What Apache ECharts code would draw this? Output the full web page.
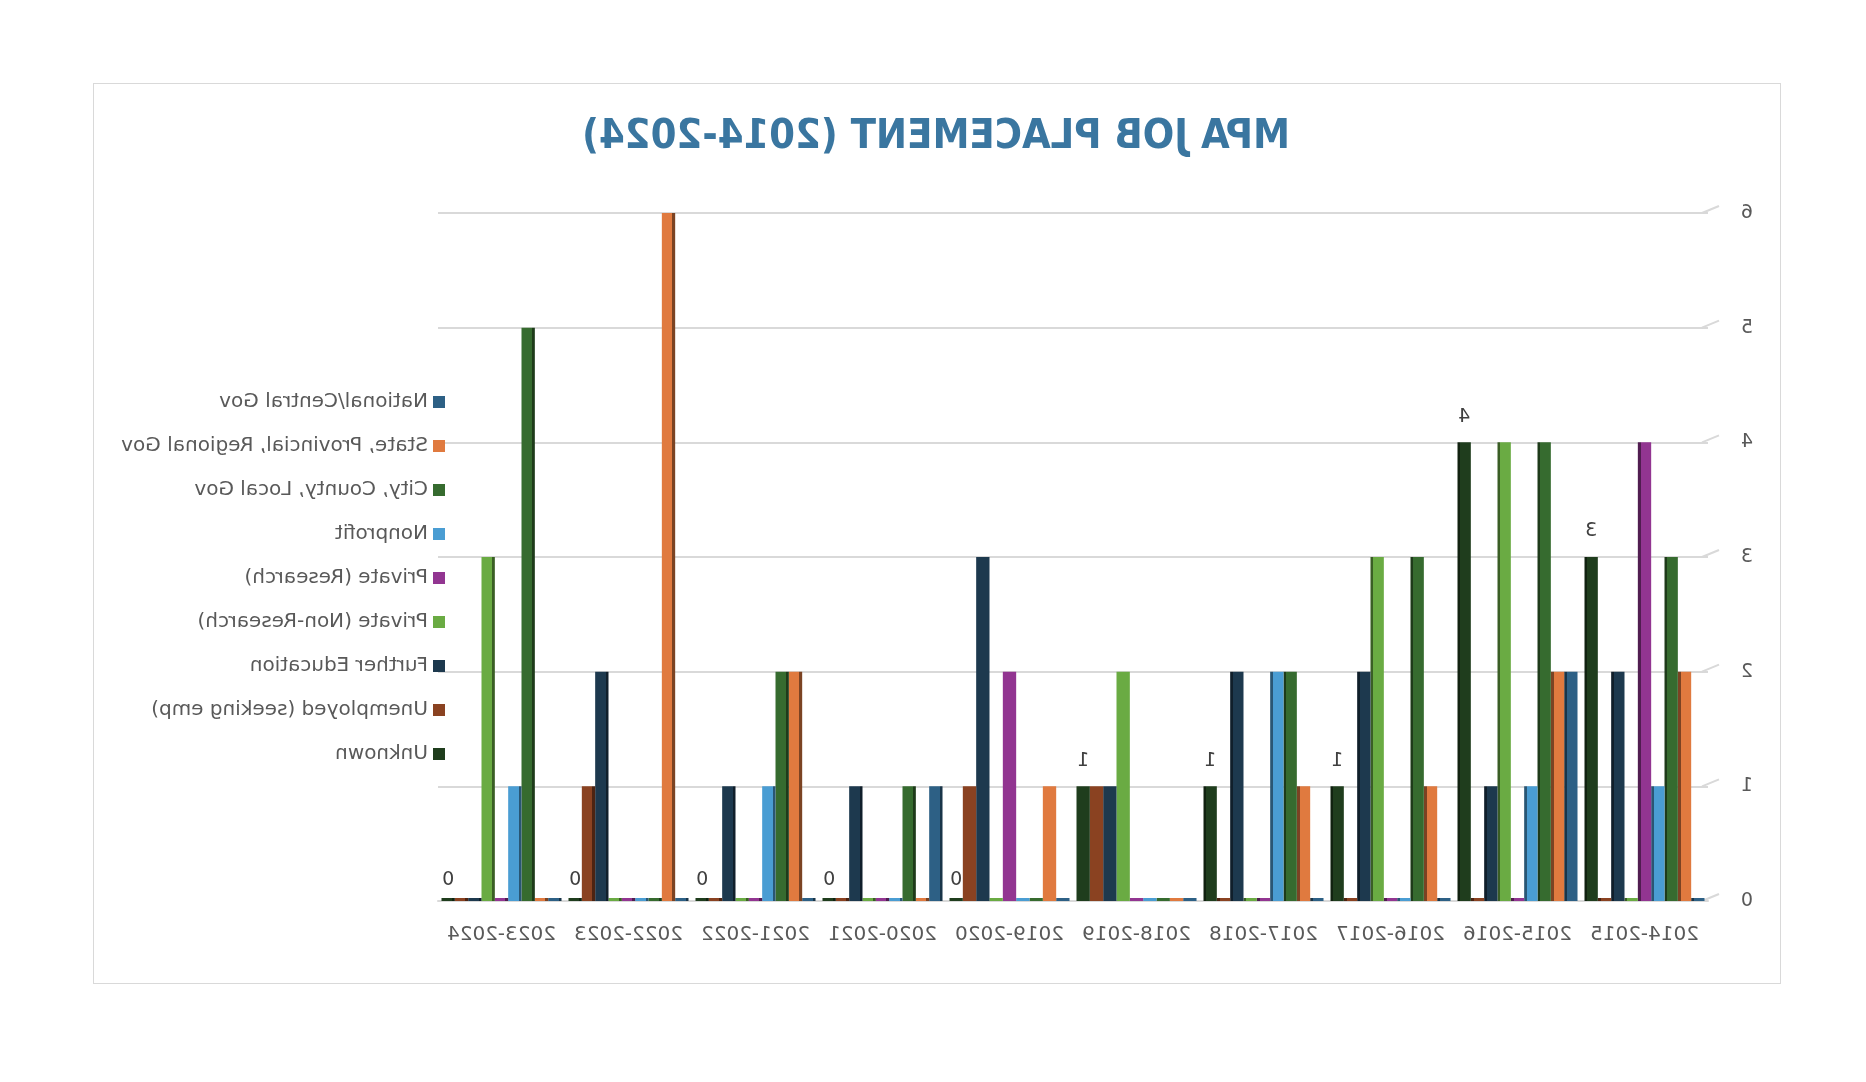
<!DOCTYPE html>
<html>
<head>
<meta charset="utf-8">
<script src="https://cdn.jsdelivr.net/npm/echarts@6/dist/echarts.min.js"></script>
<style>
html,body{margin:0;padding:0;background:#fff;}
#flip{position:absolute;left:0;top:0;width:1866px;height:1082px;transform:scaleX(-1);}
#frame{position:absolute;left:85px;top:83px;width:1688px;height:901px;border:1px solid #d9d9d9;box-sizing:border-box;}
#chart{position:absolute;left:0;top:0;width:1866px;height:1082px;}
</style>
</head>
<body>
<div id="flip"><div id="frame"></div><div id="chart"></div></div>
<script>
const categories = ['2014-2015','2015-2016','2016-2017','2017-2018','2018-2019','2019-2020','2020-2021','2021-2022','2022-2023','2023-2024'];
const seriesNames = ['National/Central Gov','State, Provincial, Regional Gov','City, County, Local Gov','Nonprofit','Private (Research)','Private (Non-Research)','Further Education','Unemployed (seeking emp)','Unknown'];
const national   = [0,2,0,0,0,0,1,0,0,0];
const stateGov   = [2,2,1,1,0,1,0,2,6,0];
const cityGov    = [3,4,3,2,0,0,1,2,0,5];
const nonprofit  = [1,1,0,2,0,0,0,1,0,1];
const privRes    = [4,0,0,0,0,2,0,0,0,0];
const privNonRes = [0,4,3,0,2,0,0,0,0,3];
const furtherEd  = [2,1,2,2,1,3,1,1,2,0];
const unemployed = [0,0,0,0,1,1,0,0,1,0];
const unknown    = [3,4,1,1,1,0,0,0,0,0];
const yTicks = [0,1,2,3,4,5,6];
const titleText = 'MPA JOB PLACEMENT (2014-2024)';

const colors = ['#2d6085','#e07a3f','#366b2f','#4a9dd3','#923591','#6aab43','#1d394e','#8a4221','#1f3d1d'];
const dataSets = [national,stateGov,cityGov,nonprofit,privRes,privNonRes,furtherEd,unemployed,unknown];
const FONT = '"DejaVu Sans", "Liberation Sans", sans-serif';

function darken(hex, f){
  const n = parseInt(hex.slice(1),16);
  const r = Math.round(((n>>16)&255)*f), g = Math.round(((n>>8)&255)*f), b = Math.round((n&255)*f);
  return 'rgb('+r+','+g+','+b+')';
}
function faceColor(base, idx){
  const dk = darken(base, 0.55);
  const s = 0.22;
  if (idx <= 3) {
    return new echarts.graphic.LinearGradient(0,0,1,0,[
      {offset:0,color:base},{offset:1-s,color:base},{offset:1-s,color:dk},{offset:1,color:dk}]);
  } else if (idx >= 6) {
    return new echarts.graphic.LinearGradient(0,0,1,0,[
      {offset:0,color:dk},{offset:s,color:dk},{offset:s,color:base},{offset:1,color:base}]);
  }
  return base;
}

const TITLE_FONT = 'bold 40px "DejaVu Sans Condensed", "DejaVu Sans"';
const mctx = document.createElement('canvas').getContext('2d');
mctx.font = TITLE_FONT;
const titleScale = 708 / mctx.measureText(titleText).width;

const chart = echarts.init(document.getElementById('chart'), null, {renderer:'canvas'});
const series = dataSets.map((d,i)=>({
  name: seriesNames[i],
  type:'bar',
  data:d.map((v,j)=>{
    const item = {value:v, itemStyle:{color:faceColor(colors[i], j)}};
    if (i===8) item.label = {distance: v>0 ? 16 : 8};
    return item;
  }),
  barGap:'0%',
  barCategoryGap:'5.5%',
  barMinHeight:3,
  itemStyle:{color:colors[i]},
  label: i===8 ? {show:true, position:'top', distance:8, fontSize:19, color:'#404040', fontFamily:FONT} : {show:false}
}));

const GRID_LEFT = 158, GRID_RIGHT = 438, GRID_TOP = 213, GRID_BOTTOM = 181;

chart.setOption({
  animation:false,
  textStyle:{fontFamily:FONT},
  legend:{
    orient:'vertical', left:1416, top:387,
    itemWidth:12, itemHeight:12, itemGap:24,
    icon:'rect',
    textStyle:{fontSize:20, lineHeight:19, color:'#595959', fontFamily:FONT},
    data:seriesNames
  },
  grid:{left:GRID_LEFT, right:GRID_RIGHT, top:GRID_TOP, bottom:GRID_BOTTOM, containLabel:false},
  xAxis:{
    type:'category', data:categories,
    axisLine:{lineStyle:{color:'#d9d9d9', width:2}},
    axisTick:{show:false},
    axisLabel:{fontSize:20, color:'#595959', margin:24, interval:0}
  },
  yAxis:{
    type:'value', min:yTicks[0], max:yTicks[yTicks.length-1], interval:1,
    axisLine:{show:false}, axisTick:{show:false},
    axisLabel:{fontSize:19, color:'#595959', margin:33},
    splitLine:{lineStyle:{color:'#d9d9d9', width:2}}
  },
  series:series
});

const gfx = [{
  type:'text', x:930, y:138, scaleX:titleScale, scaleY:1,
  style:{text:titleText, font:TITLE_FONT, fill:'#3a76a0',
         textAlign:'center', textVerticalAlign:'middle'}
}];
yTicks.forEach(v=>{
  const y = chart.convertToPixel({yAxisIndex:0}, v);
  gfx.push({type:'line', shape:{x1:GRID_LEFT+6, y1:y, x2:GRID_LEFT-11, y2:y-7},
            style:{stroke:'#d9d9d9', lineWidth:2}});
});
chart.setOption({graphic:gfx});
</script>
</body>
</html>
